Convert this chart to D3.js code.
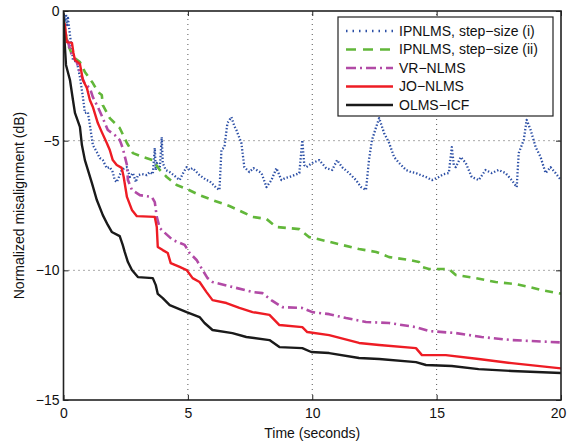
<!DOCTYPE html>
<html>
<head>
<meta charset="utf-8">
<script src="https://cdn.jsdelivr.net/npm/d3@7"></script>
<style>
  html, body { margin: 0; padding: 0; background: #fff; }
  svg { display: block; font-family: "Liberation Sans", Arial, sans-serif; }
</style>
</head>
<body>
<div id="chart"></div>
<script>
// [time (s), misalignment (dB)]
const ipnlmsStep1 = [
  [0, -0.1], [0.02, -0.15], [0.06, -0.42], [0.10, -0.12], [0.14, -0.54], [0.18, -0.27],
  [0.26, -0.93], [0.34, -1.50], [0.38, -1.89], [0.54, -1.97], [0.66, -2.55], [0.78, -3.32],
  [0.86, -3.93], [0.98, -3.90], [1.06, -4.40], [1.18, -5.17], [1.34, -5.44], [1.46, -5.67],
  [1.58, -5.75], [1.74, -6.06], [1.86, -6.02], [1.98, -6.21], [2.06, -6.52], [2.14, -6.60],
  [2.26, -6.33], [2.34, -6.13], [2.46, -6.06], [2.55, -6.02], [2.67, -6.40], [2.79, -6.25],
  [2.91, -6.60], [2.99, -6.33], [3.15, -6.29], [3.35, -6.33], [3.47, -6.21], [3.59, -6.29],
  [3.67, -5.28], [3.71, -6.13], [3.75, -5.86], [3.87, -6.06], [3.95, -4.86], [3.99, -5.86],
  [4.11, -6.13], [4.27, -6.21], [4.47, -6.36], [4.67, -6.52], [4.83, -6.21], [4.95, -6.02],
  [5.07, -6.13], [5.19, -6.06], [5.35, -6.21], [5.47, -6.33], [5.63, -6.44], [5.75, -6.52],
  [5.87, -6.56], [5.99, -6.67], [6.15, -6.83], [6.27, -6.90], [6.35, -5.36], [6.47, -5.25],
  [6.59, -4.32], [6.75, -4.09], [6.87, -4.44], [6.95, -4.59], [7.15, -5.09], [7.27, -6.02],
  [7.47, -6.21], [7.64, -6.06], [7.76, -6.13], [7.96, -6.25], [8.16, -6.79], [8.36, -6.52],
  [8.56, -6.06], [8.76, -6.52], [8.92, -6.44], [9.08, -6.40], [9.28, -6.33], [9.48, -6.25],
  [9.60, -4.98], [9.68, -5.94], [9.76, -6.02], [10.00, -5.86], [10.28, -5.75], [10.56, -6.06],
  [10.80, -6.13], [11.00, -5.75], [11.20, -6.02], [11.48, -6.25], [11.76, -6.52], [11.96, -6.79],
  [12.16, -6.90], [12.28, -5.75], [12.40, -4.98], [12.57, -4.47], [12.69, -4.13], [12.89, -4.71],
  [13.09, -5.09], [13.29, -5.63], [13.49, -5.86], [13.77, -6.13], [13.97, -6.21], [14.17, -6.25],
  [14.37, -6.33], [14.57, -6.40], [14.81, -6.52], [15.09, -6.40], [15.29, -6.29], [15.49, -6.25],
  [15.61, -5.25], [15.69, -5.94], [15.77, -6.02], [15.97, -5.63], [16.17, -5.86], [16.41, -6.40],
  [16.69, -6.52], [16.97, -6.13], [17.21, -6.25], [17.49, -6.13], [17.77, -6.25], [18.02, -6.52],
  [18.22, -6.79], [18.30, -5.48], [18.50, -4.98], [18.62, -4.20], [18.78, -4.59], [18.98, -5.25],
  [19.18, -5.63], [19.38, -6.25], [19.58, -6.02], [19.78, -6.25], [20, -6.52]
];

const ipnlmsStep2 = [
  [0, -0.3], [0.06, -0.73], [0.14, -1.20], [0.38, -1.77], [0.66, -1.97], [0.86, -2.35],
  [1.18, -2.78], [1.38, -3.12], [1.54, -3.24], [1.58, -3.63], [1.86, -4.13], [2.26, -4.51],
  [2.55, -5.09], [2.79, -5.48], [3.19, -5.63], [3.59, -5.75], [3.87, -6.13], [4.15, -6.40],
  [4.55, -6.71], [4.95, -6.86], [5.47, -7.10], [5.99, -7.29], [6.67, -7.52], [7.19, -7.75],
  [7.60, -7.94], [8.16, -8.02], [8.56, -8.33], [9.48, -8.41], [9.88, -8.72], [10.56, -8.87],
  [11.20, -9.02], [11.88, -9.18], [12.57, -9.29], [13.09, -9.49], [13.89, -9.60], [14.29, -9.68],
  [14.41, -9.87], [14.69, -9.95], [15.49, -9.95], [15.77, -10.18], [16.57, -10.30], [17.37, -10.45],
  [18.18, -10.53], [18.70, -10.64], [19.22, -10.76], [20, -10.90]
];

const vrNlms = [
  [0, -0.4], [0.10, -0.93], [0.33, -1.70], [0.53, -1.97], [0.66, -2.35], [0.86, -2.82],
  [1.06, -2.97], [1.18, -3.32], [1.38, -3.70], [1.58, -4.13], [1.78, -4.59], [2.06, -4.78],
  [2.26, -4.97], [2.38, -5.28], [2.55, -5.94], [2.59, -6.52], [2.75, -6.90], [3.07, -7.10],
  [3.55, -7.17], [3.67, -7.37], [3.75, -7.94], [3.87, -8.37], [3.99, -8.48], [4.39, -8.83],
  [4.87, -9.02], [5.07, -9.33], [5.35, -9.60], [5.59, -9.99], [5.79, -10.30], [5.99, -10.45],
  [6.79, -10.64], [7.60, -10.84], [8.00, -10.88], [8.40, -11.18], [8.80, -11.42], [9.60, -11.45],
  [10.00, -11.61], [10.68, -11.69], [11.36, -11.84], [12.16, -11.99], [13.09, -12.03], [14.17, -12.19],
  [14.69, -12.34], [15.77, -12.42], [16.81, -12.57], [18.02, -12.69], [20, -12.78]
];

const joNlms = [
  [0, -0.4], [0.06, -0.54], [0.13, -1.20], [0.34, -1.23], [0.40, -1.62], [0.46, -1.89],
  [0.66, -2.04], [0.78, -2.66], [0.94, -2.97], [1.06, -3.43], [1.18, -3.70], [1.38, -4.32],
  [1.54, -4.67], [1.74, -5.09], [1.86, -5.36], [1.98, -5.75], [2.14, -5.94], [2.34, -6.05],
  [2.42, -6.40], [2.55, -7.17], [2.75, -7.67], [2.95, -7.91], [3.67, -7.94], [3.75, -8.33],
  [3.79, -9.10], [3.99, -9.22], [4.19, -9.33], [4.31, -9.72], [4.67, -9.87], [4.95, -9.99],
  [5.19, -10.30], [5.47, -10.45], [5.75, -10.84], [5.99, -11.15], [6.55, -11.26], [7.07, -11.45],
  [7.60, -11.61], [8.28, -11.72], [8.68, -12.11], [9.60, -12.19], [9.80, -12.38], [10.68, -12.50],
  [11.88, -12.80], [12.69, -12.88], [14.17, -13.00], [14.41, -13.27], [15.37, -13.27], [16.69, -13.42],
  [18.02, -13.58], [20, -13.78]
];

const olmsIcf = [
  [0, -0.1], [0.04, -1.12], [0.10, -2.08], [0.26, -2.66], [0.38, -3.43], [0.46, -3.93],
  [0.66, -4.47], [0.74, -5.17], [0.86, -5.75], [1.14, -6.63], [1.34, -7.29], [1.58, -7.87],
  [1.78, -8.25], [1.94, -8.52], [2.26, -8.68], [2.38, -9.02], [2.46, -9.29], [2.59, -9.68],
  [2.75, -9.99], [2.99, -10.26], [3.59, -10.30], [3.71, -10.57], [3.79, -10.91], [3.99, -11.07],
  [4.27, -11.34], [4.95, -11.61], [5.47, -11.80], [5.67, -12.03], [5.99, -12.30], [6.79, -12.42],
  [7.35, -12.57], [8.28, -12.69], [8.68, -12.96], [9.60, -13.00], [9.96, -13.15], [10.68, -13.19],
  [11.88, -13.38], [12.69, -13.42], [14.17, -13.54], [14.57, -13.65], [15.61, -13.69], [16.69, -13.81],
  [18.02, -13.88], [20, -13.96]
];

const seriesNames = [
  "IPNLMS, step\u2212size (i)",
  "IPNLMS, step\u2212size (ii)",
  "VR\u2212NLMS",
  "JO\u2212NLMS",
  "OLMS\u2212ICF"
];
const xTicks = [0, 5, 10, 15, 20];
const yTicks = [0, -5, -10, -15];

const series = [
  { name: seriesNames[0], values: ipnlmsStep1, color: "#2d50a6", width: 2.3, dash: "1.4,2", legendDash: "1.5,5" },
  { name: seriesNames[1], values: ipnlmsStep2, color: "#62b73a", width: 2.6, dash: "8,6", legendDash: "10,7" },
  { name: seriesNames[2], values: vrNlms, color: "#b24aa6", width: 2.6, dash: "9,4,2,4", legendDash: "10,4,2,4" },
  { name: seriesNames[3], values: joNlms, color: "#ee1c24", width: 2.4, dash: null, legendDash: null },
  { name: seriesNames[4], values: olmsIcf, color: "#1a1a1a", width: 2.4, dash: null, legendDash: null }
];

const width = 567;
const height = 441;
const margin = { top: 11, right: 6, bottom: 41, left: 63.5 };

const svg = d3.select("#chart")
  .append("svg")
  .attr("width", width)
  .attr("height", height);

const x = d3.scaleLinear().domain([0, 20]).range([margin.left, width - margin.right]);
const y = d3.scaleLinear().domain([-15, 0]).range([height - margin.bottom, margin.top]);

const fmt = (d) => (d < 0 ? "\u2212" + Math.abs(d) : String(d));

// dotted grid
const grid = svg.append("g")
  .attr("stroke", "#555")
  .attr("stroke-width", 1)
  .attr("stroke-dasharray", "1,4");
grid.selectAll(".gx")
  .data(xTicks.slice(1, -1))
  .join("line")
  .attr("x1", (d) => x(d)).attr("x2", (d) => x(d))
  .attr("y1", y(-15)).attr("y2", y(0));
grid.selectAll(".gy")
  .data(yTicks.slice(1, -1))
  .join("line")
  .attr("x1", x(0)).attr("x2", x(20))
  .attr("y1", (d) => y(d)).attr("y2", (d) => y(d));

// curves
const line = d3.line()
  .x((d) => x(d[0]))
  .y((d) => y(d[1]));

svg.append("clipPath").attr("id", "plot-clip")
  .append("rect")
  .attr("x", x(0)).attr("y", y(0))
  .attr("width", x(20) - x(0)).attr("height", y(-15) - y(0));

svg.append("g")
  .attr("clip-path", "url(#plot-clip)")
  .selectAll("path")
  .data(series)
  .join("path")
  .attr("fill", "none")
  .attr("stroke", (d) => d.color)
  .attr("stroke-width", (d) => d.width)
  .attr("stroke-dasharray", (d) => d.dash)
  .attr("stroke-linejoin", "round")
  .attr("d", (d) => line(d.values));

// axes, MATLAB style: ticks inside, closed box
const axisColor = "#222";
const tickLen = 5;

svg.append("g")
  .attr("transform", `translate(0,${y(-15)})`)
  .call(d3.axisBottom(x).tickValues(xTicks).tickSize(-tickLen).tickPadding(8).tickFormat(fmt))
  .call((g) => g.select(".domain").remove())
  .call((g) => g.selectAll(".tick text").filter((d) => d === 20).attr("dx", -3));

svg.append("g")
  .attr("transform", `translate(${x(0)},0)`)
  .call(d3.axisLeft(y).tickValues(yTicks).tickSize(-tickLen).tickPadding(4).tickFormat(fmt))
  .call((g) => g.select(".domain").remove());

svg.append("g")
  .attr("transform", `translate(0,${y(0)})`)
  .call(d3.axisTop(x).tickValues(xTicks).tickSize(-tickLen).tickFormat(""))
  .call((g) => g.select(".domain").remove());

svg.append("g")
  .attr("transform", `translate(${x(20)},0)`)
  .call(d3.axisRight(y).tickValues(yTicks).tickSize(-tickLen).tickFormat(""))
  .call((g) => g.select(".domain").remove());

svg.selectAll(".tick line").attr("stroke", axisColor).attr("stroke-width", 1);
svg.selectAll(".tick text")
  .attr("fill", "#111")
  .attr("font-size", 14)
  .attr("font-family", "'Liberation Sans', Arial, sans-serif");

svg.append("rect")
  .attr("x", x(0)).attr("y", y(0))
  .attr("width", x(20) - x(0)).attr("height", y(-15) - y(0))
  .attr("fill", "none")
  .attr("stroke", axisColor)
  .attr("stroke-width", 1.6);

// axis titles
svg.append("text")
  .attr("x", (x(0) + x(20)) / 2)
  .attr("y", 438)
  .attr("text-anchor", "middle")
  .attr("font-size", 14)
  .attr("fill", "#111")
  .text("Time (seconds)");

svg.append("text")
  .attr("transform", `translate(24,${(y(0) + y(-15)) / 2}) rotate(-90)`)
  .attr("text-anchor", "middle")
  .attr("font-size", 14)
  .attr("fill", "#111")
  .text("Normalized misalignment (dB)");

// legend
const legendX = 338;
const legendY = 17;
const legendW = 215;
const rowH = 18.5;
const legend = svg.append("g");
legend.append("rect")
  .attr("x", legendX).attr("y", legendY)
  .attr("width", legendW).attr("height", 99)
  .attr("fill", "#fff")
  .attr("stroke", axisColor)
  .attr("stroke-width", 1.2);

const rows = legend.selectAll(".row")
  .data(series)
  .join("g")
  .attr("transform", (d, i) => `translate(${legendX},${legendY + 14 + i * rowH})`);

rows.append("line")
  .attr("x1", 8).attr("x2", 55)
  .attr("stroke", (d) => d.color)
  .attr("stroke-width", (d) => d.width)
  .attr("stroke-dasharray", (d) => d.legendDash);

rows.append("text")
  .attr("x", 61)
  .attr("dy", "0.35em")
  .attr("font-size", 14)
  .attr("fill", "#111")
  .text((d) => d.name);
</script>
</body>
</html>
